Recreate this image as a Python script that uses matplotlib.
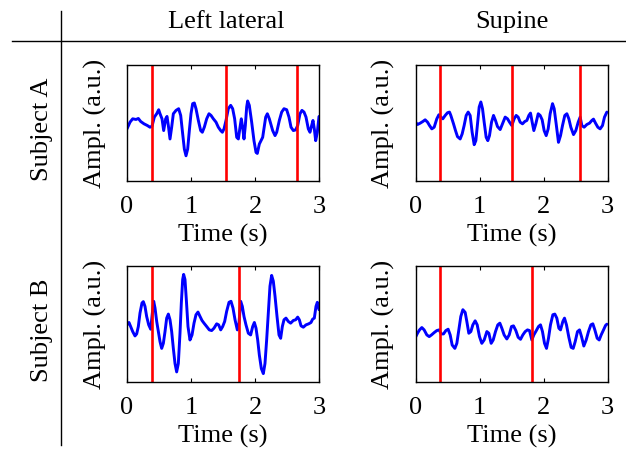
import numpy as np
import matplotlib
matplotlib.use("Agg")
import matplotlib.pyplot as plt
from matplotlib.lines import Line2D

plt.rcParams["font.family"] = ["Liberation Serif", "DejaVu Serif"]

# column / row headers
col_titles = ["Left lateral", "Supine"]
row_titles = ["Subject A", "Subject B"]
xticks = [0, 1, 2, 3]

# Subject A, left lateral
t_al = [0, 0.047, 0.089, 0.141, 0.177, 0.214, 0.266, 0.318, 0.359, 0.391, 0.427, 0.464,
        0.495, 0.516, 0.547, 0.573, 0.604, 0.625, 0.646, 0.672, 0.698, 0.724, 0.766,
        0.807, 0.839, 0.870, 0.896, 0.922, 0.948, 0.974, 1.0, 1.026, 1.052, 1.078,
        1.115, 1.151, 1.177, 1.208, 1.245, 1.281, 1.313, 1.349, 1.391, 1.427, 1.464,
        1.490, 1.516, 1.547, 1.583, 1.620, 1.651, 1.682, 1.714, 1.740, 1.766, 1.786,
        1.807, 1.828, 1.849, 1.870, 1.885, 1.911, 1.948, 1.984, 2.016, 2.036, 2.068,
        2.120, 2.167, 2.193, 2.224, 2.276, 2.313, 2.339, 2.380, 2.417, 2.453, 2.495,
        2.531, 2.563, 2.599, 2.635, 2.667, 2.703, 2.734, 2.766, 2.797, 2.833, 2.859,
        2.885, 2.906, 2.927, 2.948, 2.974, 3.0]
y_al = [-0.15, 0.05, 0.15, 0.13, 0.16, 0.07, 0.0, -0.05, -0.10, -0.07, 0.20, 0.30,
        0.42, 0.30, 0.15, -0.20, 0.15, 0.22, -0.05, -0.45, -0.10, 0.30, 0.40,
        0.45, 0.25, -0.30, -0.75, -0.95, -0.75, -0.20, 0.30, 0.60, 0.62, 0.45,
        0.10, -0.20, -0.25, -0.10, 0.15, 0.30, 0.25, 0.15, 0.05, -0.10, -0.20,
        -0.25, -0.15, 0.10, 0.45, 0.55, 0.45, 0.15, -0.40, -0.45, -0.10, 0.15,
        -0.10, -0.45, -0.05, 0.50, 0.68, 0.55, 0.05, -0.50, -0.85, -0.88, -0.60,
        -0.40, 0.20, 0.30, 0.15, -0.20, -0.35, -0.25, 0.10, 0.35, 0.45, 0.42,
        0.20, -0.10, -0.20, -0.18, -0.05, 0.30, 0.40, 0.35, 0.20, -0.15, -0.25,
        -0.05, 0.10, -0.15, -0.50, -0.25, 0.22]
beats_al = [0.396, 1.542, 2.661]

# Subject A, supine
t_as = [0, 0.031, 0.073, 0.115, 0.151, 0.188, 0.219, 0.255, 0.292, 0.333, 0.365, 0.396,
        0.427, 0.464, 0.5, 0.531, 0.552, 0.594, 0.625, 0.656, 0.698, 0.729, 0.760,
        0.792, 0.823, 0.854, 0.885, 0.917, 0.943, 0.969, 0.995, 1.021, 1.047, 1.073,
        1.104, 1.130, 1.156, 1.188, 1.219, 1.25, 1.281, 1.323, 1.359, 1.401, 1.438,
        1.469, 1.505, 1.542, 1.573, 1.604, 1.635, 1.672, 1.708, 1.740, 1.771, 1.797,
        1.823, 1.849, 1.880, 1.917, 1.948, 1.979, 2.010, 2.042, 2.073, 2.104, 2.141,
        2.167, 2.198, 2.234, 2.266, 2.297, 2.333, 2.365, 2.396, 2.427, 2.469, 2.505,
        2.542, 2.573, 2.599, 2.635, 2.677, 2.719, 2.755, 2.781, 2.813, 2.849, 2.885,
        2.922, 2.953, 2.990]
y_as = [0.05, -0.02, 0.02, 0.07, 0.12, 0.05, -0.05, -0.15, -0.10, 0.15, 0.27, 0.20,
        0.15, 0.25, 0.33, 0.35, 0.25, 0.0, -0.20, -0.38, -0.45, -0.30, -0.05,
        0.25, 0.35, 0.25, -0.25, -0.62, -0.50, 0.0, 0.50, 0.65, 0.45, 0.05,
        -0.40, -0.50, -0.35, 0.05, 0.25, 0.10, -0.08, -0.17, 0.0, 0.20, 0.15,
        0.05, -0.05, 0.15, 0.25, 0.20, 0.05, 0.0, 0.07, 0.10, 0.25, 0.32,
        0.05, -0.20, 0.0, 0.30, 0.25, 0.12, -0.20, -0.35, -0.15, 0.30, 0.60,
        0.45, 0.0, -0.55, -0.35, -0.05, 0.25, 0.30, 0.15, -0.10, -0.32, -0.20,
        0.05, 0.20, -0.05, -0.10, -0.02, 0.02, 0.10, 0.14, 0.02, -0.10, -0.15,
        -0.05, 0.20, 0.35]
beats_as = [0.385, 1.505, 2.573]

# Subject B, left lateral
t_bl = [0, 0.031, 0.057, 0.089, 0.125, 0.151, 0.177, 0.203, 0.234, 0.255, 0.281, 0.307,
        0.339, 0.370, 0.396, 0.417, 0.438, 0.464, 0.490, 0.516, 0.542, 0.568, 0.594,
        0.620, 0.646, 0.672, 0.698, 0.724, 0.750, 0.776, 0.802, 0.828, 0.849, 0.870,
        0.885, 0.906, 0.927, 0.953, 0.984, 1.016, 1.047, 1.078, 1.109, 1.141, 1.172,
        1.203, 1.245, 1.286, 1.323, 1.359, 1.401, 1.432, 1.464, 1.495, 1.526, 1.557,
        1.594, 1.625, 1.656, 1.688, 1.724, 1.750, 1.776, 1.802, 1.828, 1.859, 1.896,
        1.932, 1.964, 1.990, 2.016, 2.042, 2.068, 2.099, 2.130, 2.156, 2.182, 2.208,
        2.234, 2.260, 2.286, 2.313, 2.344, 2.375, 2.401, 2.427, 2.453, 2.484, 2.521,
        2.557, 2.599, 2.635, 2.667, 2.693, 2.719, 2.755, 2.797, 2.839, 2.875, 2.901,
        2.927, 2.953, 2.974, 3.0]
y_bl = [0.0, 0.07, -0.05, -0.20, -0.33, -0.27, -0.05, 0.35, 0.65, 0.69, 0.55, 0.25,
        0.0, -0.13, 0.35, 0.70, 0.50, 0.10, -0.20, -0.50, -0.70, -0.55, -0.20,
        0.20, 0.32, 0.15, -0.20, -0.70, -1.15, -1.40, -1.15, -0.25, 0.65, 1.35,
        1.50, 1.35, 0.75, -0.05, -0.45, -0.30, 0.05, 0.30, 0.38, 0.25, 0.13,
        0.05, -0.05, -0.15, -0.17, -0.10, 0.03, 0.0, -0.15, -0.05, 0.10, 0.40,
        0.67, 0.70, 0.50, 0.15, -0.15, 0.05, 0.70, 0.55, 0.25, 0.0, -0.25,
        -0.30, -0.05, 0.07, -0.10, -0.45, -0.90, -1.30, -1.45, -1.15, -0.45, 0.35,
        1.15, 1.47, 1.30, 0.85, 0.25, -0.30, -0.40, -0.05, 0.15, 0.20, 0.10,
        0.05, 0.13, 0.15, 0.23, 0.15, -0.03, -0.07, 0.0, 0.03, 0.07, 0.17,
        0.20, 0.55, 0.67, 0.45]
beats_bl = [0.385, 1.75]

# Subject B, supine
t_bs = [0, 0.031, 0.063, 0.099, 0.135, 0.177, 0.214, 0.25, 0.292, 0.333, 0.370, 0.401,
        0.438, 0.474, 0.510, 0.542, 0.573, 0.615, 0.646, 0.677, 0.708, 0.740, 0.776,
        0.802, 0.833, 0.865, 0.896, 0.932, 0.964, 1.0, 1.036, 1.073, 1.115, 1.146,
        1.182, 1.214, 1.25, 1.286, 1.318, 1.349, 1.385, 1.427, 1.464, 1.5, 1.531,
        1.568, 1.604, 1.641, 1.677, 1.714, 1.750, 1.781, 1.818, 1.849, 1.885, 1.922,
        1.953, 1.984, 2.016, 2.047, 2.078, 2.109, 2.146, 2.177, 2.208, 2.240, 2.266,
        2.302, 2.328, 2.359, 2.396, 2.432, 2.464, 2.495, 2.531, 2.563, 2.594, 2.630,
        2.667, 2.703, 2.740, 2.771, 2.802, 2.839, 2.870, 2.901, 2.938, 2.969, 2.990]
y_bs = [-0.37, -0.25, -0.15, -0.08, -0.15, -0.30, -0.35, -0.30, -0.23, -0.17, -0.15, -0.27,
        -0.27, -0.17, -0.13, -0.30, -0.60, -0.70, -0.55, -0.15, 0.25, 0.45, 0.37,
        0.10, -0.25, -0.20, 0.0, 0.12, 0.0, -0.35, -0.55, -0.45, -0.20, -0.25,
        -0.55, -0.45, -0.20, 0.0, 0.05, -0.10, -0.30, -0.42, -0.30, -0.05, -0.03,
        -0.17, -0.37, -0.43, -0.30, -0.20, -0.15, -0.17, -0.45, -0.30, -0.18, -0.05,
        0.0, -0.20, -0.55, -0.70, -0.40, 0.0, 0.30, 0.32, 0.20, -0.10, -0.15,
        0.10, 0.20, 0.0, -0.37, -0.67, -0.70, -0.50, -0.20, -0.15, -0.35, -0.63,
        -0.45, -0.20, 0.0, 0.03, -0.15, -0.40, -0.45, -0.30, -0.15, -0.02, 0.02]
beats_bs = [0.385, 1.823]

panels = [
    [(t_al, y_al, beats_al), (t_as, y_as, beats_as)],
    [(t_bl, y_bl, beats_bl), (t_bs, y_bs, beats_bs)],
]

W, H = 626, 451
FS = 19
fig = plt.figure(figsize=(W / 100, H / 100), dpi=100)

lefts = [127, 415.5]
tops = [65, 266]
aw, ah = 192, 116

for r in range(2):
    for c in range(2):
        t, y, beats = panels[r][c]
        ax = fig.add_axes([lefts[c] / W, 1 - (tops[r] + ah) / H, aw / W, ah / H])
        ax.plot(t, y, color="#0000ff", lw=2.1, solid_joinstyle="round",
                solid_capstyle="round")
        for b in beats:
            ax.axvline(b, color="#ff0000", lw=1.9)
        ax.set_xlim(0, 3)
        ax.set_ylim(-1.7, 1.75)
        ax.set_xticks(xticks)
        ax.set_yticks([])
        ax.tick_params(axis="x", direction="in", top=True, length=3, labelsize=FS, pad=10.5)
        ax.set_xlabel("Time (s)", fontsize=FS)
        ax.set_ylabel("Ampl. (a.u.)", fontsize=FS)
        ax.xaxis.set_label_coords(0.5, -0.37)
        ax.yaxis.set_label_coords(-0.105, 0.5)
        for s in ax.spines.values():
            s.set_linewidth(1.0)

# headers
fig.text(226 / W, 1 - 28 / H, col_titles[0], ha="center", va="baseline", fontsize=FS)
fig.text(512 / W, 1 - 28 / H, col_titles[1], ha="center", va="baseline", fontsize=FS)
fig.text(42 / W, 1 - 129 / H, row_titles[0], ha="center", va="center", rotation=90, fontsize=FS)
fig.text(42 / W, 1 - 330 / H, row_titles[1], ha="center", va="center", rotation=90, fontsize=FS)

# table rules
fig.add_artist(Line2D([12 / W, 1], [1 - 41 / H, 1 - 41 / H], color="black", lw=1.0))
fig.add_artist(Line2D([61 / W, 61 / W], [1 - 11 / H, 1 - 445 / H], color="black", lw=1.0))

fig.savefig("out.png", dpi=100)
